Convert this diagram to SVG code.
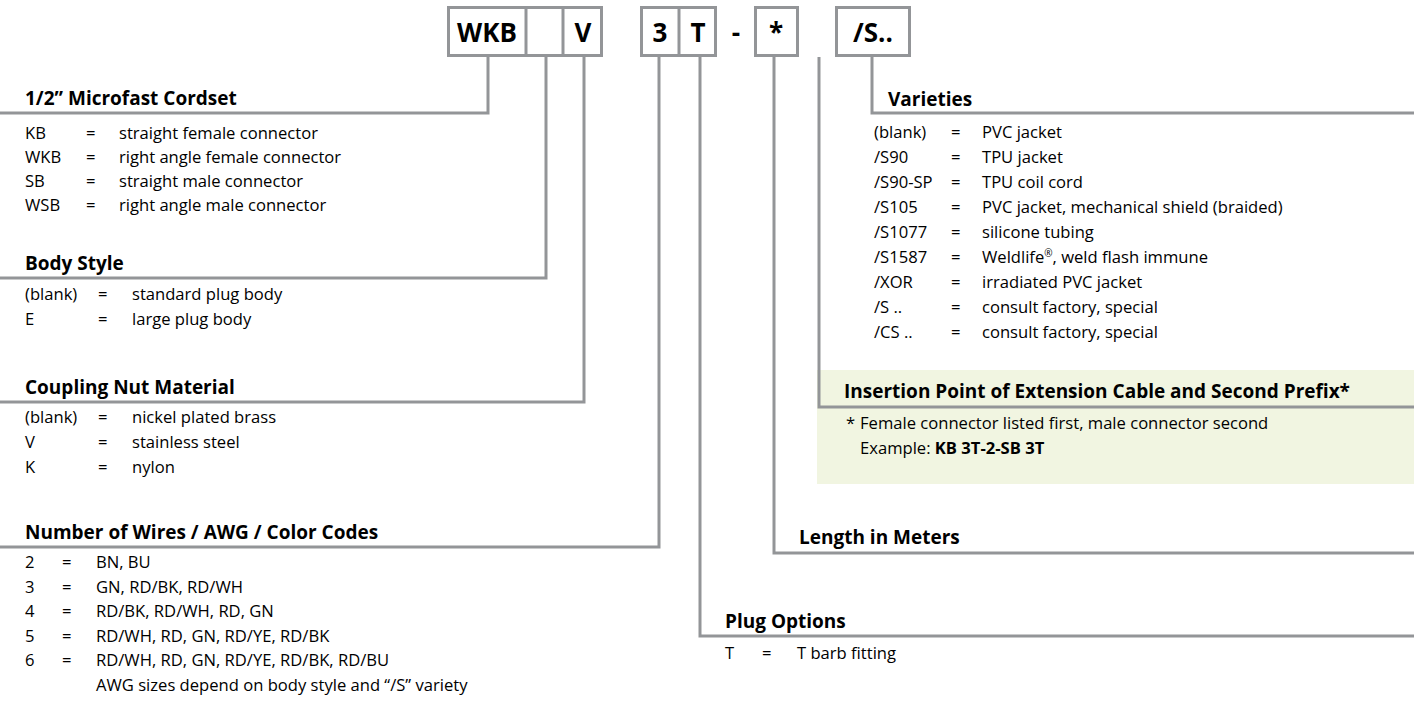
<svg xmlns="http://www.w3.org/2000/svg" width="1414" height="701" viewBox="0 0 1414 701">
<style>
.ln{fill:none;stroke:#939598;stroke-width:3}
.box{fill:#fff;stroke:#939598;stroke-width:3}
.bx{font-family:"Open Sans","Liberation Sans",sans-serif;font-weight:bold;font-size:26px;fill:#000;text-anchor:middle}
.h{font-family:"Open Sans","Liberation Sans",sans-serif;font-weight:bold;font-size:19px;fill:#000}
.t{font-family:"Open Sans","Liberation Sans",sans-serif;font-size:16.6px;fill:#000}
.b{font-weight:bold}
</style>
<rect width="1414" height="701" fill="#fff"/>
<g id="note-box"><rect x="817" y="370" width="597" height="114" fill="#f1f5e1"/></g>
<g id="connectors">
<polyline class="ln" points="488,57 488,113 0,113"/>
<polyline class="ln" points="546,57 546,278 0,278"/>
<polyline class="ln" points="584,57 584,402 0,402"/>
<polyline class="ln" points="659,57 659,547 0,547"/>
<polyline class="ln" points="700,57 700,636 1414,636"/>
<polyline class="ln" points="774,57 774,553 1414,553"/>
<polyline class="ln" points="819,57 819,407 1414,407"/>
<polyline class="ln" points="872,57 872,113 1414,113"/>
</g>
<g id="code-boxes">
<rect class="box" x="448.5" y="7.5" width="153" height="48"/>
<line class="ln" x1="526" y1="7.5" x2="526" y2="55.5"/>
<line class="ln" x1="563" y1="7.5" x2="563" y2="55.5"/>
<rect class="box" x="641.5" y="7.5" width="74" height="48"/>
<line class="ln" x1="679" y1="7.5" x2="679" y2="55.5"/>
<rect class="box" x="755.5" y="7.5" width="42" height="48"/>
<rect class="box" x="836.5" y="7.5" width="73" height="48"/>
<text class="bx" x="487" y="42">WKB</text>
<text class="bx" x="583" y="42">V</text>
<text class="bx" x="660" y="42">3</text>
<text class="bx" x="698" y="42">T</text>
<text class="bx" x="736" y="42">-</text>
<text class="bx" x="776" y="42">*</text>
<text class="bx" x="873" y="42">/S..</text>
</g>
<g id="microfast">
<text class="h" x="25" y="105">1/2” Microfast Cordset</text>
<text class="t" x="25" y="139">KB</text><text class="t" x="86" y="139">=</text><text class="t" x="119" y="139">straight female connector</text>
<text class="t" x="25" y="163">WKB</text><text class="t" x="86" y="163">=</text><text class="t" x="119" y="163">right angle female connector</text>
<text class="t" x="25" y="187">SB</text><text class="t" x="86" y="187">=</text><text class="t" x="119" y="187">straight male connector</text>
<text class="t" x="25" y="211">WSB</text><text class="t" x="86" y="211">=</text><text class="t" x="119" y="211">right angle male connector</text>
</g>
<g id="body-style">
<text class="h" x="25" y="270">Body Style</text>
<text class="t" x="25" y="300">(blank)</text><text class="t" x="98" y="300">=</text><text class="t" x="132" y="300">standard plug body</text>
<text class="t" x="25" y="325">E</text><text class="t" x="98" y="325">=</text><text class="t" x="132" y="325">large plug body</text>
</g>
<g id="coupling-nut">
<text class="h" x="25" y="394">Coupling Nut Material</text>
<text class="t" x="25" y="423">(blank)</text><text class="t" x="98" y="423">=</text><text class="t" x="132" y="423">nickel plated brass</text>
<text class="t" x="25" y="448">V</text><text class="t" x="98" y="448">=</text><text class="t" x="132" y="448">stainless steel</text>
<text class="t" x="25" y="473">K</text><text class="t" x="98" y="473">=</text><text class="t" x="132" y="473">nylon</text>
</g>
<g id="wires">
<text class="h" x="25" y="539">Number of Wires / AWG / Color Codes</text>
<text class="t" x="25" y="568">2</text><text class="t" x="62" y="568">=</text><text class="t" x="96" y="568">BN, BU</text>
<text class="t" x="25" y="593">3</text><text class="t" x="62" y="593">=</text><text class="t" x="96" y="593">GN, RD/BK, RD/WH</text>
<text class="t" x="25" y="617">4</text><text class="t" x="62" y="617">=</text><text class="t" x="96" y="617">RD/BK, RD/WH, RD, GN</text>
<text class="t" x="25" y="642">5</text><text class="t" x="62" y="642">=</text><text class="t" x="96" y="642">RD/WH, RD, GN, RD/YE, RD/BK</text>
<text class="t" x="25" y="666">6</text><text class="t" x="62" y="666">=</text><text class="t" x="96" y="666">RD/WH, RD, GN, RD/YE, RD/BK, RD/BU</text>
<text class="t" x="96" y="691">AWG sizes depend on body style and “/S” variety</text>
</g>
<g id="varieties">
<text class="h" x="888" y="106">Varieties</text>
<text class="t" x="874" y="138">(blank)</text><text class="t" x="951" y="138">=</text><text class="t" x="982" y="138">PVC jacket</text>
<text class="t" x="874" y="163">/S90</text><text class="t" x="951" y="163">=</text><text class="t" x="982" y="163">TPU jacket</text>
<text class="t" x="874" y="188">/S90-SP</text><text class="t" x="951" y="188">=</text><text class="t" x="982" y="188">TPU coil cord</text>
<text class="t" x="874" y="213">/S105</text><text class="t" x="951" y="213">=</text><text class="t" x="982" y="213">PVC jacket, mechanical shield (braided)</text>
<text class="t" x="874" y="238">/S1077</text><text class="t" x="951" y="238">=</text><text class="t" x="982" y="238">silicone tubing</text>
<text class="t" x="874" y="263">/S1587</text><text class="t" x="951" y="263">=</text><text class="t" x="982" y="263">Weldlife<tspan font-size="10" dy="-6">®</tspan><tspan dy="6">, weld flash immune</tspan></text>
<text class="t" x="874" y="288">/XOR</text><text class="t" x="951" y="288">=</text><text class="t" x="982" y="288">irradiated PVC jacket</text>
<text class="t" x="874" y="313">/S ..</text><text class="t" x="951" y="313">=</text><text class="t" x="982" y="313">consult factory, special</text>
<text class="t" x="874" y="338">/CS ..</text><text class="t" x="951" y="338">=</text><text class="t" x="982" y="338">consult factory, special</text>
</g>
<g id="insertion">
<text class="h" x="844" y="398">Insertion Point of Extension Cable and Second Prefix*</text>
<text class="t" x="846" y="429">*</text><text class="t" x="860" y="429">Female connector listed first, male connector second</text>
<text class="t" x="860" y="454">Example: <tspan class="b">KB 3T-2-SB 3T</tspan></text>
</g>
<g id="length">
<text class="h" x="799" y="544">Length in Meters</text>
</g>
<g id="plug-options">
<text class="h" x="725" y="628">Plug Options</text>
<text class="t" x="725" y="659">T</text><text class="t" x="762" y="659">=</text><text class="t" x="797" y="659">T barb fitting</text>
</g>
</svg>
